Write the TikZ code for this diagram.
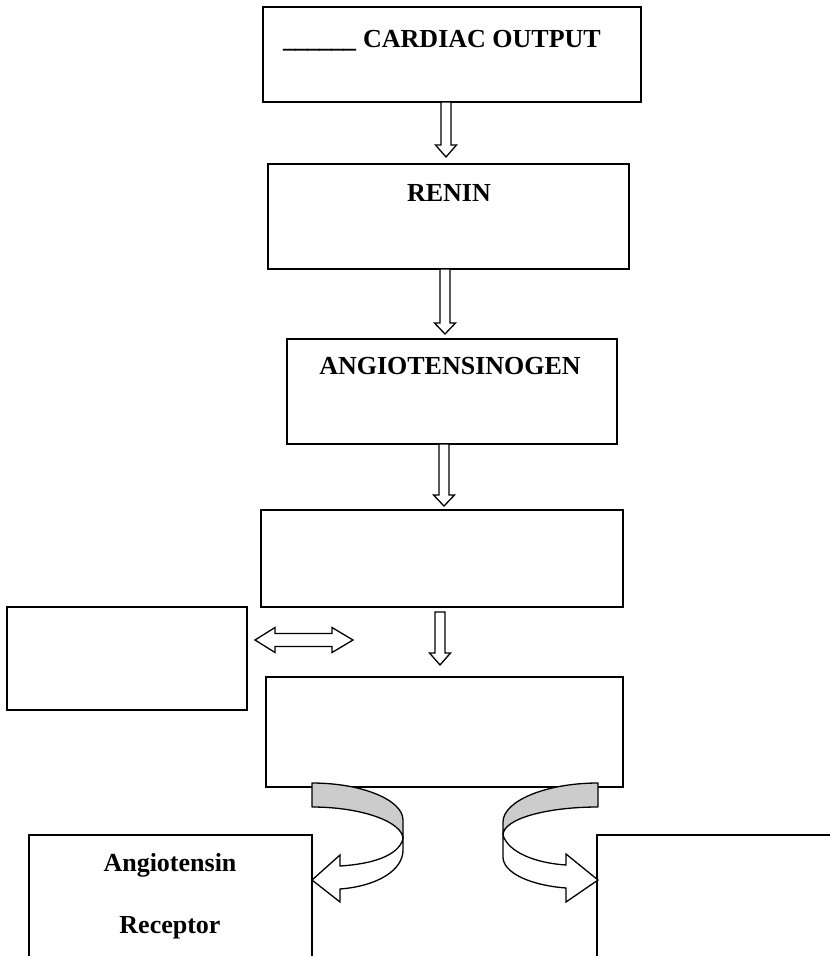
\documentclass[tikz,border=0pt]{standalone}
\usepackage{fontspec}
\setmainfont{Liberation Serif}
\begin{document}
\begin{tikzpicture}[x=1pt,y=-1pt,
  box/.style={draw=black,line width=1.5pt,rectangle,inner sep=0pt,outer sep=0pt},
  lbl/.style={font=\fontsize{26}{30}\selectfont\bfseries,inner sep=0pt,anchor=base},
  blk/.style={draw=black,line width=1.3pt,fill=white,line join=miter},
  back/.style={draw=black,line width=1.3pt,fill=gray!40,line join=round},
  front/.style={draw=black,line width=1.3pt,fill=white,line join=miter}]
\useasboundingbox (0,0) rectangle (830,956);
\fill[white] (0,0) rectangle (830,956);
\newcommand\hollowdown[4]{%
  \draw[blk] (#1-5,#2) -- (#1-5,#3) -- (#1-10.5,#3) -- (#1,#4) -- (#1+10.5,#3) -- (#1+5,#3) -- (#1+5,#2) -- cycle;}
% boxes
\node[box,minimum width=378pt,minimum height=95pt] (b1) at (452,54.5) {};
\node[box,minimum width=361pt,minimum height=105pt] (b2) at (448.5,216.5) {};
\node[box,minimum width=330pt,minimum height=105pt] (b3) at (452,391.5) {};
\node[box,minimum width=362pt,minimum height=97pt] (b4) at (442,558.5) {};
\node[box,minimum width=240pt,minimum height=103pt] (bl) at (127,658.5) {};
\node[box,minimum width=357pt,minimum height=110pt] (b5) at (444.5,732) {};
\coordinate (rl) at (29,835);
\coordinate (rr) at (597,835);
\draw[line width=1.5pt] (29,960) -- (rl) -- (312,835) -- (312,960);
\draw[line width=1.5pt] (597,960) -- (rr) -- (834,835);
% texts
\node[lbl,anchor=base west] (t1) at (283,47) {\_\kern-1pt\_\kern-1pt\_\kern-1pt\_\kern-1pt\_\kern-1pt\_\hspace{7pt}CARDIAC OUTPUT};
\node[lbl] (t2) at (449,201) {RENIN};
\node[lbl] (t3) at (450,374) {ANGIOTENSINOGEN};
\node[lbl] (t4) at (170,871) {Angiotensin};
\node[lbl] (t5) at (170,933) {Receptor};
% block arrows
\hollowdown{446}{102}{145}{157}
\hollowdown{445}{269}{323}{334}
\hollowdown{444}{444}{495}{506}
\hollowdown{440}{612}{653}{665}
\draw[blk] (255,640) -- (275,627.5) -- (275,633.5) -- (332,633.5) -- (332,627.5) -- (353,640)
  -- (332,652.5) -- (332,646.5) -- (275,646.5) -- (275,652.5) -- cycle;
% curved arrows (left)
\draw[back] (312,783) .. controls (362,783) and (403,800) .. (403,820) -- (403,839)
  .. controls (403,822) and (362,807) .. (312,807) -- cycle;
\draw[front] (403,839) .. controls (398,856) and (372,864) .. (340,866) -- (340,855) -- (312,880)
  -- (340,902) -- (340,889) .. controls (378,886) and (403,870) .. (403,850) -- cycle;
% curved arrows (right)
\draw[back] (598,783) .. controls (546,783) and (503,801) .. (503,822) -- (503,835)
  .. controls (503,819) and (546,807) .. (598,807) -- cycle;
\draw[front] (503,835) .. controls (508,852) and (535,863) .. (566,865) -- (566,854) -- (598,880)
  -- (566,902) -- (566,888) .. controls (528,885) and (503,872) .. (503,857) -- cycle;
\end{tikzpicture}
\end{document}
